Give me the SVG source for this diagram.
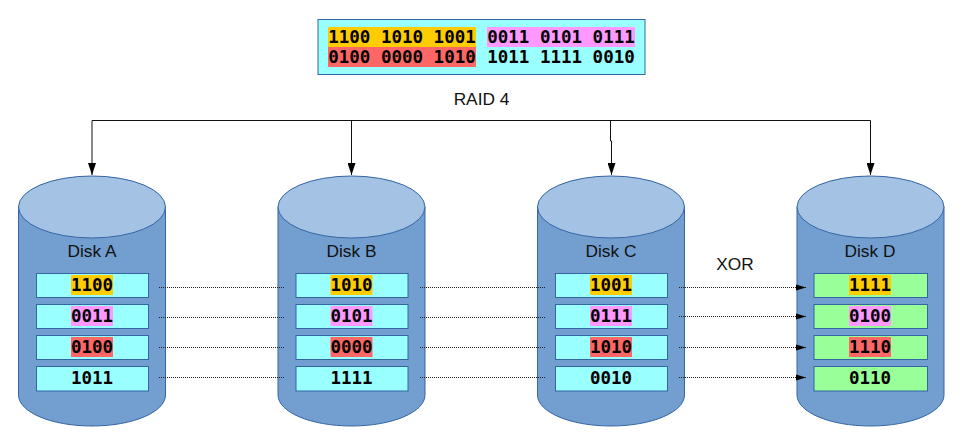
<svg xmlns="http://www.w3.org/2000/svg" width="964" height="447" viewBox="0 0 964 447">
<style>
text{font-family:"Liberation Sans",Arial,sans-serif;font-size:17.300px;fill:#111;text-anchor:middle}
.b{font-family:"DejaVu Sans Mono",monospace;font-weight:bold;font-size:17.500px;fill:#000}
.body{fill:#729fcf;stroke:#3465a4;stroke-width:1}
.lid{fill:#a4c2e3;stroke:#3465a4;stroke-width:1}
.cell{fill:#99ffff;stroke:#3465a4;stroke-width:1}
.par{fill:#99ff99;stroke:#3465a4;stroke-width:1}
.y{fill:#ffcc00}.p{fill:#ff99ff}.r{fill:#ff6666}
.line{fill:none;stroke:#111;stroke-width:1}
.dot{fill:none;stroke:#222;stroke-width:1;stroke-dasharray:1 1}
</style>
<defs>
<marker id="a" markerUnits="userSpaceOnUse" markerWidth="8" markerHeight="13" refX="4" refY="12" orient="0" viewBox="0 0 8 13"><path d="M0 0L8 0L4 12Z" fill="#000"/></marker>
<marker id="h" markerUnits="userSpaceOnUse" markerWidth="10" markerHeight="8" refX="10" refY="4" orient="auto" viewBox="0 0 10 8"><path d="M0 1L10 4L0 7Z" fill="#000"/></marker>
<g id="cyl"><path class="body" d="M18.500 207V395C18.500 412 51 426 92 426S165.500 412 165.500 395V207Z"/><ellipse class="lid" cx="92" cy="207" rx="73.500" ry="31"/></g>
</defs>
<g id="data">
<rect x="318" y="19.500" width="327" height="55" class="cell"/>
<rect x="328" y="27" width="148" height="20" class="y"/>
<rect x="487" y="27" width="148" height="20" class="p"/>
<rect x="328" y="47" width="148" height="20" class="r"/>
<text class="b" x="402" y="42.500" xml:space="preserve">1100 1010 1001</text>
<text class="b" x="561" y="42.500" xml:space="preserve">0011 0101 0111</text>
<text class="b" x="402" y="62.500" xml:space="preserve">0100 0000 1010</text>
<text class="b" x="561" y="62.500" xml:space="preserve">1011 1111 0010</text>
</g>
<text id="raid-label" x="481.500" y="105">RAID 4</text>
<text id="xor-label" x="735" y="270">XOR</text>
<g id="disk-a">
<use href="#cyl"/>
<text x="92" y="257">Disk A</text>
<rect class="cell" x="36.500" y="273.500" width="112" height="24"/><rect class="y" x="71" y="275" width="42" height="20"/><text class="b" x="92" y="291">1100</text>
<rect class="cell" x="36.500" y="304.500" width="112" height="24"/><rect class="p" x="71" y="306" width="42" height="20"/><text class="b" x="92" y="322">0011</text>
<rect class="cell" x="36.500" y="335.500" width="112" height="24"/><rect class="r" x="71" y="337" width="42" height="20"/><text class="b" x="92" y="353">0100</text>
<rect class="cell" x="36.500" y="366.500" width="112" height="24.500"/><text class="b" x="92" y="384">1011</text>
</g>
<g id="disk-b">
<use href="#cyl" x="259.500"/>
<text x="351.500" y="257">Disk B</text>
<rect class="cell" x="296" y="273.500" width="112" height="24"/><rect class="y" x="330.500" y="275" width="42" height="20"/><text class="b" x="351.500" y="291">1010</text>
<rect class="cell" x="296" y="304.500" width="112" height="24"/><rect class="p" x="330.500" y="306" width="42" height="20"/><text class="b" x="351.500" y="322">0101</text>
<rect class="cell" x="296" y="335.500" width="112" height="24"/><rect class="r" x="330.500" y="337" width="42" height="20"/><text class="b" x="351.500" y="353">0000</text>
<rect class="cell" x="296" y="366.500" width="112" height="24.500"/><text class="b" x="351.500" y="384">1111</text>
</g>
<g id="disk-c">
<use href="#cyl" x="519"/>
<text x="611" y="257">Disk C</text>
<rect class="cell" x="555.500" y="273.500" width="112" height="24"/><rect class="y" x="590" y="275" width="42" height="20"/><text class="b" x="611" y="291">1001</text>
<rect class="cell" x="555.500" y="304.500" width="112" height="24"/><rect class="p" x="590" y="306" width="42" height="20"/><text class="b" x="611" y="322">0111</text>
<rect class="cell" x="555.500" y="335.500" width="112" height="24"/><rect class="r" x="590" y="337" width="42" height="20"/><text class="b" x="611" y="353">1010</text>
<rect class="cell" x="555.500" y="366.500" width="112" height="24.500"/><text class="b" x="611" y="384">0010</text>
</g>
<g id="disk-d">
<use href="#cyl" x="778.500"/>
<text x="870" y="257">Disk D</text>
<rect class="par" x="814" y="273.500" width="113.500" height="24"/><rect class="y" x="849" y="275" width="42" height="20"/><text class="b" x="870" y="291">1111</text>
<rect class="par" x="814" y="304.500" width="113.500" height="24"/><rect class="p" x="849" y="306" width="42" height="20"/><text class="b" x="870" y="322">0100</text>
<rect class="par" x="814" y="335.500" width="113.500" height="24"/><rect class="r" x="849" y="337" width="42" height="20"/><text class="b" x="870" y="353">1110</text>
<rect class="par" x="814" y="366.500" width="113.500" height="24.500"/><text class="b" x="870" y="384">0110</text>
</g>
<g id="connectors">
<path class="line" d="M92 120.500H870.500"/>
<path class="line" marker-end="url(#a)" d="M92 120.500V175"/>
<path class="line" marker-end="url(#a)" d="M351.500 120.500V175"/>
<path class="line" marker-end="url(#a)" d="M610.500 120.500V141H611.500V175"/>
<path class="line" marker-end="url(#a)" d="M870.500 120.500V175"/>
<path class="dot" d="M159 287.500H285"/><path class="dot" d="M159 317.500H285"/><path class="dot" d="M159 347.500H285"/><path class="dot" d="M159 377.500H285"/>
<path class="dot" d="M420 287.500H546"/><path class="dot" d="M420 317.500H546"/><path class="dot" d="M420 347.500H546"/><path class="dot" d="M420 377.500H546"/>
<path class="dot" marker-end="url(#h)" d="M679 287.500H806"/><path class="dot" marker-end="url(#h)" d="M679 316.500H806"/><path class="dot" marker-end="url(#h)" d="M679 347.500H806"/><path class="dot" marker-end="url(#h)" d="M679 377.500H806"/>
</g>
</svg>
